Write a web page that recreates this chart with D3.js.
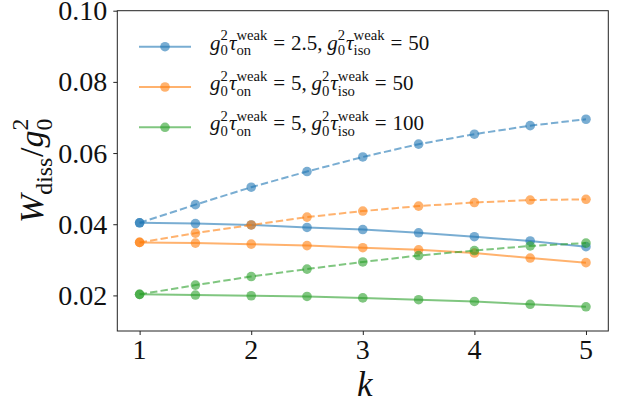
<!DOCTYPE html>
<html><head><meta charset="utf-8">
<script src="https://cdn.jsdelivr.net/npm/d3@7"></script>
<style>
html,body{margin:0;padding:0;background:#fff;}
</style></head>
<body>
<svg id="chart" width="624" height="409"></svg>
<script>
const kValues = [1, 1.5, 2, 2.5, 3, 3.5, 4, 4.5, 5];
const blueSolid    = [0.0404, 0.0402, 0.0398, 0.0391, 0.0385, 0.0376, 0.0365, 0.0353, 0.0337];
const blueDashed   = [0.0404, 0.0455, 0.0504, 0.0548, 0.0589, 0.0625, 0.0653, 0.0677, 0.0695];
const orangeSolid  = [0.0349, 0.0347, 0.0344, 0.0340, 0.0334, 0.0328, 0.0319, 0.0305, 0.0292];
const orangeDashed = [0.0349, 0.0375, 0.0398, 0.0420, 0.0437, 0.0451, 0.0461, 0.0468, 0.0470];
const greenSolid   = [0.0203, 0.0201, 0.0199, 0.0197, 0.0193, 0.0188, 0.0183, 0.0175, 0.0168];
const greenDashed  = [0.0203, 0.0229, 0.0253, 0.0274, 0.0294, 0.0312, 0.0326, 0.0339, 0.0347];
const tauOn  = ["2.5", "5", "5"];
const tauIso = ["50", "50", "100"];
const xTicks = [1, 2, 3, 4, 5];
const yTicks = [0.02, 0.04, 0.06, 0.08, 0.10];
const colors = ["#1f77b4", "#ff7f0e", "#2ca02c"];

const FONT = "Liberation Serif";
const svg = d3.select("#chart");
const L = 117.3, R = 608.3, T = 10.7, B = 331;
const x = d3.scaleLinear().domain([0.8, 5.2]).range([L, R]);
const y = d3.scaleLinear().domain([0.01, 0.10]).range([B, T]);

const series = [
  {vals: blueSolid, c: colors[0], dash: null},
  {vals: blueDashed, c: colors[0], dash: "7.4,3.2"},
  {vals: orangeSolid, c: colors[1], dash: null},
  {vals: orangeDashed, c: colors[1], dash: "7.4,3.2"},
  {vals: greenSolid, c: colors[2], dash: null},
  {vals: greenDashed, c: colors[2], dash: "7.4,3.2"}
];

const line = d3.line().x((d,i)=>x(kValues[i])).y(d=>y(d));
series.forEach(s => {
  svg.append("path").datum(s.vals)
    .attr("d", line).attr("fill","none")
    .attr("stroke", s.c).attr("stroke-width", 2).attr("stroke-opacity", 0.6)
    .attr("stroke-dasharray", s.dash);
  svg.selectAll(null).data(s.vals).enter().append("circle")
    .attr("cx",(d,i)=>x(kValues[i])).attr("cy",d=>y(d)).attr("r",4.8)
    .attr("fill", s.c).attr("fill-opacity", 0.6);
});

const xAxis = d3.axisBottom(x).tickValues(xTicks).tickSize(4).tickFormat(() => "");
const yAxis = d3.axisLeft(y).tickValues(yTicks).tickSize(4).tickFormat(() => "");
const gx = svg.append("g").attr("transform",`translate(0,${B})`).call(xAxis);
const gy = svg.append("g").attr("transform",`translate(${L},0)`).call(yAxis);
[gx, gy].forEach(g => {
  g.select(".domain").remove();
  g.selectAll(".tick line").attr("stroke","#222").attr("stroke-width",1);
  g.selectAll(".tick text").remove();
});
svg.append("rect").attr("x",L).attr("y",T).attr("width",R-L).attr("height",B-T)
  .attr("fill","none").attr("stroke","#222").attr("stroke-width",1);

function mk(tx, ty, rot, cx, cy, fs, it, s) {
  const t = svg.append("text").attr("x", cx).attr("y", cy).attr("font-size", fs)
    .attr("font-family", FONT).attr("fill", "#111").text(s);
  if (it) t.attr("font-style", "italic");
  t.attr("transform", `translate(${tx},${ty})` + (rot ? ` rotate(${rot})` : ""));
  return t;
}

const fmtY = d3.format(".2f"), fmtX = d3.format("d");
xTicks.forEach(v => mk(x(v), B, 0, 0, 28, 28, false, fmtX(v)).attr("text-anchor","middle"));
yTicks.forEach(v => mk(L, y(v), 0, -10, 9.5, 28, false, fmtY(v)).attr("text-anchor","end"));

function layout(tx, ty, rot, pieces, size) {
  let cx = 0;
  pieces.forEach(p => {
    if (p.gap !== undefined) { cx += p.gap * size; return; }
    if (p.sup !== undefined || p.sub !== undefined) {
      const fs = size * 0.7;
      let w = 0;
      if (p.sup !== undefined) {
        const t = mk(tx, ty, rot, cx, -size * 0.45, fs, false, p.sup);
        w = Math.max(w, t.node().getComputedTextLength());
      }
      if (p.sub !== undefined) {
        const t = mk(tx, ty, rot, cx, size * 0.27, fs, false, p.sub);
        w = Math.max(w, t.node().getComputedTextLength());
      }
      cx += w;
      return;
    }
    const t = mk(tx, ty, rot, cx, 0, size, p.it, p.t);
    cx += t.node().getComputedTextLength();
  });
  return cx;
}

const rowY0 = 46.7, rowDY = 40.3;
tauOn.forEach((v, i) => {
  const ry = rowY0 + i * rowDY;
  svg.append("line").attr("x1",139).attr("x2",191).attr("y1",ry).attr("y2",ry)
    .attr("stroke", colors[i]).attr("stroke-width",2).attr("stroke-opacity",0.6);
  svg.append("circle").attr("cx",165).attr("cy",ry).attr("r",4.8)
    .attr("fill", colors[i]).attr("fill-opacity",0.6);
  layout(210, ry + 3, 0, [
    {t:"g", it:true}, {sup:"2", sub:"0"}, {gap:0.05},
    {t:"τ", it:true}, {sup:"weak", sub:"on"}, {gap:0.28},
    {t:"="}, {gap:0.28}, {t: v + ","}, {gap:0.22},
    {t:"g", it:true}, {sup:"2", sub:"0"}, {gap:0.05},
    {t:"τ", it:true}, {sup:"weak", sub:"iso"}, {gap:0.28},
    {t:"="}, {gap:0.28}, {t: tauIso[i]}
  ], 21);
});

mk((L+R)/2 + 2, 396, 0, 0, 0, 35, true, "k").attr("text-anchor","middle");

const ylPieces = [
  {t:"W", it:true}, {sub:"diss"}, {gap:0.02}, {t:"/"}, {t:"g", it:true}, {sup:"2", sub:"0"}
];
const tmpStart = svg.selectAll("text").size();
const ylw = layout(-1000, -1000, 0, ylPieces, 34);
svg.selectAll("text").filter((d, i) => i >= tmpStart).remove();
layout(43, (T+B)/2 + ylw/2, -90, ylPieces, 34);
</script>
</body></html>
